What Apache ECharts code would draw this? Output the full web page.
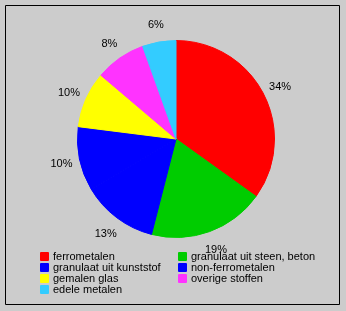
<!DOCTYPE html>
<html><head><meta charset="utf-8">
<script src="https://cdn.jsdelivr.net/npm/echarts@6/dist/echarts.min.js"></script>
<style>html,body{margin:0;padding:0;background:#cccccc;}#c{width:346px;height:311px;}</style>
</head><body><div id="c"></div>
<script>
const categories = ['ferrometalen','granulaat uit steen, beton','granulaat uit kunststof','non-ferrometalen','gemalen glas','overige stoffen','edele metalen'];
const values = [34.9, 19.1, 12.5, 10.5, 9.2, 8.3, 5.5];
// percentages as printed on the chart
const labels = ['34%', '19%', '13%', '10%', '10%', '8%', '6%'];
const colors = ['#ff0000','#00cc00','#0000ff','#0000ff','#ffff00','#ff33ff','#33ccff'];
const legendCol1 = ['ferrometalen','granulaat uit kunststof','gemalen glas','edele metalen'];
const legendCol2 = ['granulaat uit steen, beton','non-ferrometalen','overige stoffen'];

const data = categories.map((n,i)=>({name:n, value:values[i], itemStyle:{color:colors[i], borderColor:colors[i], borderWidth:1}}));
const font = 'Liberation Sans, Arial, sans-serif';
const chart = echarts.init(document.getElementById('c'), null, {renderer:'canvas'});
const legendCommon = {orient:'vertical', icon:'rect', itemWidth:7, itemHeight:7, itemGap:0, padding:0,
  textStyle:{fontFamily:font, fontSize:11, color:'#000', lineHeight:10.7}, selectedMode:false};
chart.setOption({
  backgroundColor:'#cccccc',
  animation:false,
  graphic:[{type:'rect', shape:{x:5.5,y:5.5,width:334,height:299}, style:{fill:'none', stroke:'#000', lineWidth:1}, silent:true}],
  legend:[
    Object.assign({left:40, top:251, data:legendCol1}, legendCommon),
    Object.assign({left:178, top:251, data:legendCol2}, legendCommon)
  ],
  series:[
    {type:'pie', center:[176,139], radius:[0,98.5], startAngle:90, clockwise:true, silent:true,
     label:{show:false}, labelLine:{show:false}, data:data},
    {type:'pie', center:[176,139], radius:[104,124], startAngle:90, clockwise:true, silent:true,
     legendHoverLink:false,
     itemStyle:{color:'rgba(0,0,0,0)'},
     label:{show:true, position:'inside', fontFamily:font, fontSize:11, color:'#000', offset:[0,1],
       formatter:(p)=>labels[p.dataIndex]},
     labelLine:{show:false},
     data:categories.map((n,i)=>({name:n+' ', value:values[i]}))}
  ]
});
</script></body></html>
